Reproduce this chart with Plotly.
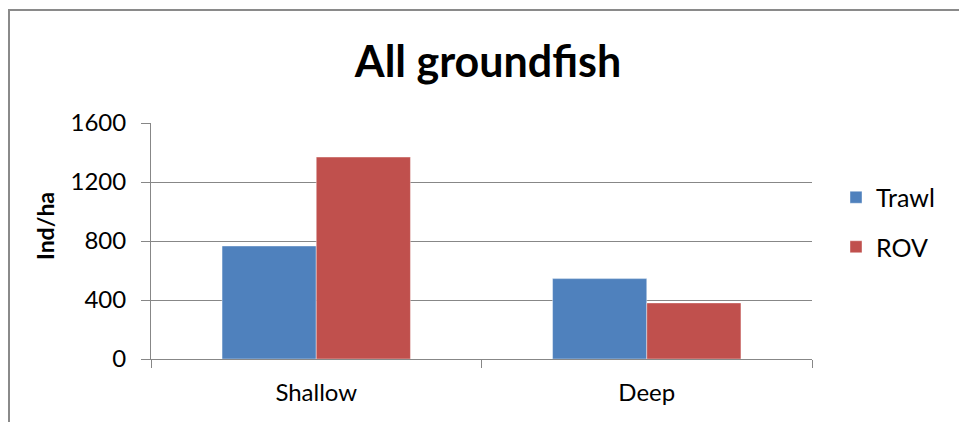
import plotly.graph_objects as go

# Groundfish density by depth stratum and survey method
categories = ["Shallow", "Deep"]
trawl = [766, 545]
rov = [1369, 380]
y_ticks = [0, 400, 800, 1200, 1600]

W, H = 959, 422
L, R, T, B = 151, 147, 123, 63
pw, ph = W - L - R, H - T - B

font = "Lato, Carlito, Calibri, sans-serif"
grid = "#878787"

fig = go.Figure()
fig.add_trace(go.Bar(
    name="Trawl", x=categories, y=trawl, legendgroup="a",
    marker=dict(color="#4F81BD", line=dict(color="rgba(255,255,255,0.5)", width=0.8)),
))
fig.add_trace(go.Bar(
    name="ROV", x=categories, y=rov, legendgroup="b",
    marker=dict(color="#C0504D", line=dict(color="rgba(255,255,255,0.5)", width=0.8)),
))

# outer chart frame (extends past right and bottom edges)
fig.add_shape(
    type="rect", xref="paper", yref="paper",
    x0=(9 - L) / pw, x1=(W + 10 - L) / pw,
    y0=-(H + 10 - T - ph) / ph, y1=(H - 10 - B) / ph,
    line=dict(color="#8a8a8a", width=2), layer="below",
)

# vertical axis title
fig.add_annotation(
    text="<b>Ind/ha</b>", textangle=-90, showarrow=False,
    xref="paper", yref="paper",
    x=(45 - L) / pw, y=1 - (226 - T) / ph, xanchor="center", yanchor="middle",
    font=dict(family=font, size=23, color="black"),
)

fig.update_layout(
    width=W, height=H,
    margin=dict(l=L, r=R, t=T, b=B, pad=0),
    paper_bgcolor="white", plot_bgcolor="white",
    barmode="group", bargap=0.43, bargroupgap=0,
    font=dict(family=font, color="black", size=24),
    title=dict(text="<b>All groundfish</b>", x=488 / W, xanchor="center",
               y=1 - 62 / H, yanchor="middle",
               font=dict(family=font, size=43, color="black")),
    legend=dict(x=(836 - L) / pw, y=1 - (222 - T) / ph, xanchor="left", yanchor="middle",
                font=dict(family=font, size=25), tracegroupgap=14,
                bgcolor="rgba(0,0,0,0)"),
    showlegend=True,
)
fig.update_yaxes(
    range=[0, 1600], tickvals=y_ticks, showgrid=True, gridcolor=grid, gridwidth=1,
    showline=True, linecolor=grid, linewidth=1,
    ticks="outside", ticklen=9, tickcolor=grid, ticklabelstandoff=10,
    tickfont=dict(family=font, size=24), zeroline=False,
)
fig.update_xaxes(
    showline=True, linecolor=grid, linewidth=1, mirror=False,
    ticks="outside", ticklen=8, tickcolor=grid, tickson="boundaries",
    tickfont=dict(family=font, size=24), ticklabelstandoff=12,
)
fig.write_html("out.html")
